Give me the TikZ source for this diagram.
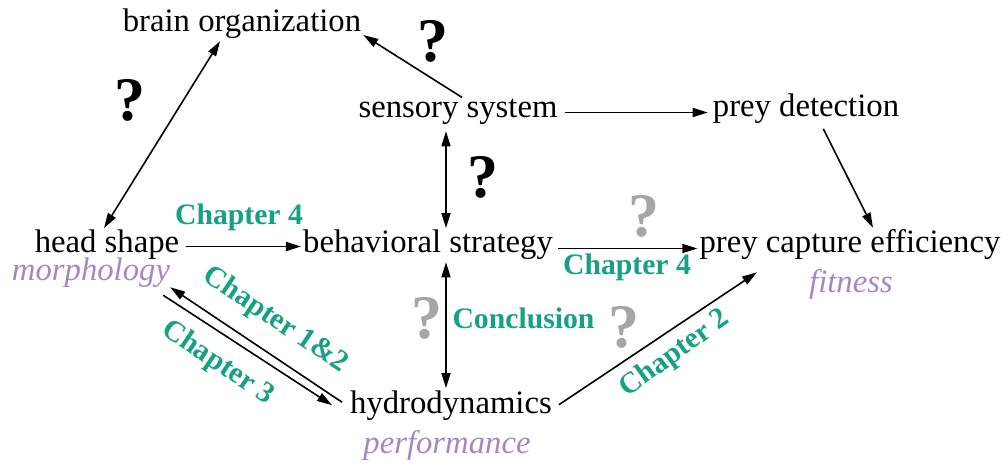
\documentclass[tikz,border=0pt]{standalone}
\usepackage{fontspec}
\setmainfont{Liberation Serif}
\usetikzlibrary{arrows.meta}
\definecolor{tealc}{RGB}{22,160,133}
\definecolor{lav}{RGB}{165,135,200}
\definecolor{qgray}{RGB}{166,166,166}
\begin{document}
\begin{tikzpicture}[x=1pt,y=-1pt,
 lbl/.style={font=\fontsize{32.7}{36}\selectfont, inner sep=2pt, anchor=base},
 sub/.style={font=\fontsize{32.7}{36}\selectfont\itshape, text=lav, inner sep=2pt, anchor=base},
 chap/.style={font=\fontsize{29.7}{33}\selectfont\bfseries, text=tealc, inner sep=0pt},
 qb/.style={font=\fontsize{62}{64}\selectfont\bfseries, inner sep=0pt},
 qg/.style={qb, text=qgray},
 arr/.style={line width=1.6pt, -{Triangle[length=15pt,width=9pt]}},
 darr/.style={line width=1.6pt, {Triangle[length=15pt,width=9pt]}-{Triangle[length=15pt,width=9pt]}}]
\useasboundingbox (0,0) rectangle (1007,465);
% main nodes
\node[lbl] (brain) at (242,32) {brain organization};
\node[lbl] (sens) at (458,118) {sensory system};
\node[lbl] (det) at (806,117) {prey detection};
\node[lbl] (head) at (107,253) {head shape};
\node[lbl] (beh) at (428,253) {behavioral strategy};
\node[lbl] (cap) at (850,253) {prey capture efficiency};
\node[lbl] (hyd) at (451,413) {hydrodynamics};
\node[sub] (morph) at (91,280) {morphology};
\node[sub] (perf) at (447,453) {performance};
\node[sub] (fit) at (851,292) {fitness};
% connectors
\draw[darr] ([xshift=-3pt]head.north) -- ([xshift=-22pt]brain.south);
\draw[arr] ([xshift=4pt]sens.north) -- ([yshift=-3pt]brain.base east);
\draw[arr, shorten <=5pt, shorten >=3pt] ([yshift=5.5pt]sens.base east) -- ([yshift=4.5pt]det.base west);
\draw[arr, shorten <=3pt] ([xshift=16pt]det.south) -- ([xshift=23pt]cap.north);
\draw[arr, shorten <=5pt] ([yshift=6.5pt]head.base east) -- ([yshift=6.5pt]beh.base west);
\draw[darr, shorten <=4pt] ([xshift=-12pt]sens.south) -- ([xshift=18pt]beh.north);
\draw[arr, shorten <=3pt] ([yshift=4.5pt]beh.base east) -- ([yshift=4.5pt]cap.base west);
\draw[darr] ([xshift=18pt]beh.south) -- ([xshift=-5pt]hyd.north);
\draw[arr, shorten <=6pt] ([yshift=5pt]hyd.base east) -- ([xshift=-93pt,yshift=-10pt]cap.south);
\draw[arr] ([xshift=-6pt,yshift=3pt]hyd.west) -- ([xshift=-2pt,yshift=2pt]morph.south east);
\draw[arr] ([xshift=-9pt,yshift=-6pt]morph.south east) -- ([xshift=-16pt]hyd.west);
% chapter labels
\node[chap, anchor=base] (c4a) at (239,225) {Chapter 4};
\node[chap, anchor=base] (c4b) at (627,275) {Chapter 4};
\node[chap, anchor=base] (concl) at (523.5,328) {Conclusion};
\node[chap, rotate=-33.8] (c12) at (275.5,320.5) {Chapter 1\&2};
\node[chap, rotate=-33.8] (c3) at (217.5,363.5) {Chapter 3};
\node[chap, rotate=36] (c2) at (675,354) {Chapter 2};
% question marks
\node[qb] (q1) at (130,100) {?};
\node[qb] (q2) at (433,41) {?};
\node[qb] (q3) at (483,177) {?};
\node[qg] (q4) at (644,216) {?};
\node[qg] (q5) at (427,318) {?};
\node[qg] (q6) at (624,327) {?};
\end{tikzpicture}
\end{document}
